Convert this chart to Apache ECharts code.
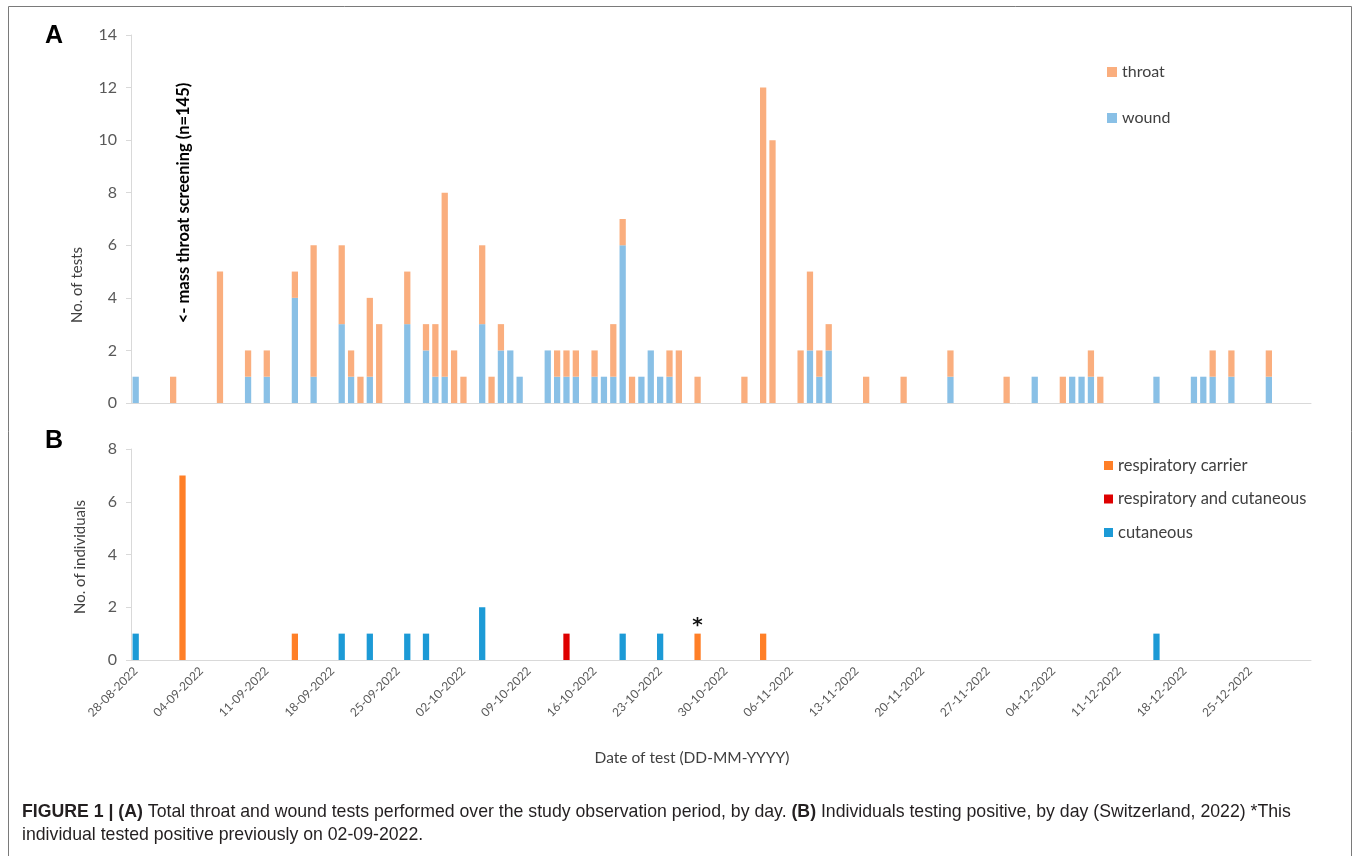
<!DOCTYPE html>
<html><head><meta charset="utf-8">
<script src="https://cdn.jsdelivr.net/npm/echarts@6/dist/echarts.min.js"></script>
<style>html,body{margin:0;padding:0;background:#fff}#c{width:1356px;height:856px}</style>
</head><body><div id="c"></div>
<script>
// ---- categories: one per day, 28-08-2022 .. 31-12-2022 ----
const firstDay = new Date(2022, 7, 28);
const nDays = 126;
const dates = [];
for (let i = 0; i < nDays; i++) {
  const d = new Date(firstDay.getFullYear(), firstDay.getMonth(), firstDay.getDate() + i);
  dates.push(String(d.getDate()).padStart(2, '0') + '-' + String(d.getMonth() + 1).padStart(2, '0') + '-' + d.getFullYear());
}

// ---- Panel A: number of tests per day ----
const throat = [
0,0,0,0,1,0,0,0,0,5,
0,0,1,0,1,0,0,1,0,5,
0,0,3,1,1,3,3,0,0,2,
0,1,2,7,2,1,0,3,1,1,
0,0,0,0,0,1,1,1,0,1,
0,2,1,1,0,0,0,1,2,0,
1,0,0,0,0,1,0,12,10,0,
0,2,3,1,1,0,0,0,1,0,
0,0,1,0,0,0,0,1,0,0,
0,0,0,1,0,0,0,0,0,1,
0,0,1,1,0,0,0,0,0,0,
0,0,0,0,0,1,0,1,0,0,
0,1,0,0,0,0];
const wound = [
1,0,0,0,0,0,0,0,0,0,
0,0,1,0,1,0,0,4,0,1,
0,0,3,1,0,1,0,0,0,3,
0,2,1,1,0,0,0,3,0,2,
2,1,0,0,2,1,1,1,0,1,
1,1,6,0,1,2,1,1,0,0,
0,0,0,0,0,0,0,0,0,0,
0,0,2,1,2,0,0,0,0,0,
0,0,0,0,0,0,0,1,0,0,
0,0,0,0,0,0,1,0,0,0,
1,1,1,0,0,0,0,0,0,1,
0,0,0,1,1,1,0,1,0,0,
0,1,0,0,0,0];

// ---- Panel B: individuals testing positive per day ----
const respCarrier = [
0,0,0,0,0,7,0,0,0,0,
0,0,0,0,0,0,0,1,0,0,
0,0,0,0,0,0,0,0,0,0,
0,0,0,0,0,0,0,0,0,0,
0,0,0,0,0,0,0,0,0,0,
0,0,0,0,0,0,0,0,0,0,
1,0,0,0,0,0,0,1,0,0,
0,0,0,0,0,0,0,0,0,0,
0,0,0,0,0,0,0,0,0,0,
0,0,0,0,0,0,0,0,0,0,
0,0,0,0,0,0,0,0,0,0,
0,0,0,0,0,0,0,0,0,0,
0,0,0,0,0,0];
const respAndCut = [
0,0,0,0,0,0,0,0,0,0,
0,0,0,0,0,0,0,0,0,0,
0,0,0,0,0,0,0,0,0,0,
0,0,0,0,0,0,0,0,0,0,
0,0,0,0,0,0,1,0,0,0,
0,0,0,0,0,0,0,0,0,0,
0,0,0,0,0,0,0,0,0,0,
0,0,0,0,0,0,0,0,0,0,
0,0,0,0,0,0,0,0,0,0,
0,0,0,0,0,0,0,0,0,0,
0,0,0,0,0,0,0,0,0,0,
0,0,0,0,0,0,0,0,0,0,
0,0,0,0,0,0];
const cutaneous = [
1,0,0,0,0,0,0,0,0,0,
0,0,0,0,0,0,0,0,0,0,
0,0,1,0,0,1,0,0,0,1,
0,1,0,0,0,0,0,2,0,0,
0,0,0,0,0,0,0,0,0,0,
0,0,1,0,0,0,1,0,0,0,
0,0,0,0,0,0,0,0,0,0,
0,0,0,0,0,0,0,0,0,0,
0,0,0,0,0,0,0,0,0,0,
0,0,0,0,0,0,0,0,0,0,
0,0,0,0,0,0,0,0,0,1,
0,0,0,0,0,0,0,0,0,0,
0,0,0,0,0,0];
const asteriskDate = '27-10-2022';   // individual who tested positive previously
const screeningDate = '02-09-2022';  // mass throat screening (n=145), off scale
const yTicksA = [0, 14, 2];
const yTicksB = [0, 8, 2];

const C = {
  throat: '#FAAE7E', wound: '#89C0E6',
  carrier: '#FF7F27', both: '#DE0000', cut: '#1C9AD6',
  axis: '#D9D9D9', label: '#595959', text: '#404040'
};
const FONT = 'Lato';

const chart = echarts.init(document.getElementById('c'), null, { renderer: 'canvas' });

const gridL = 131, gridR = 45;
const option = {
  backgroundColor: '#fff',
  animation: false,
  textStyle: { fontFamily: FONT },
  grid: [
    { left: gridL, right: gridR, top: 35, height: 368 },
    { left: gridL, right: gridR, top: 449, height: 211 }
  ],
  legend: [
    { data: ['throat', 'wound'], orient: 'vertical', left: 1107, top: 64, padding: 0, icon: 'rect',
      itemWidth: 10, itemHeight: 10, itemGap: 30, selectedMode: false,
      textStyle: { fontSize: 16, color: C.text, fontFamily: FONT } },
    { data: ['respiratory carrier', 'respiratory and cutaneous', 'cutaneous'], orient: 'vertical',
      left: 1104, top: 457, padding: 0, icon: 'rect', itemWidth: 9, itemHeight: 9, itemGap: 16.5, selectedMode: false,
      textStyle: { fontSize: 16.5, color: C.text, fontFamily: FONT } }
  ],
  xAxis: [
    { type: 'category', gridIndex: 0, data: dates, boundaryGap: true,
      axisLine: { lineStyle: { color: C.axis } },
      axisTick: { interval: 0, length: 5, lineStyle: { color: C.axis } },
      axisLabel: { show: false }, splitLine: { show: false } },
    { type: 'category', gridIndex: 1, data: dates, boundaryGap: true,
      axisLine: { lineStyle: { color: C.axis } },
      axisTick: { interval: 6, length: 5, lineStyle: { color: C.axis } },
      axisLabel: { interval: 6, rotate: 45, fontSize: 12, color: C.label, margin: 9, fontFamily: FONT },
      splitLine: { show: false } }
  ],
  yAxis: [
    { type: 'value', gridIndex: 0, min: yTicksA[0], max: yTicksA[1], interval: yTicksA[2],
      axisLine: { show: true, lineStyle: { color: C.axis } },
      axisTick: { show: true, length: 5, lineStyle: { color: C.axis } },
      axisLabel: { fontSize: 16, color: C.label, margin: 14, fontFamily: FONT },
      splitLine: { show: false } },
    { type: 'value', gridIndex: 1, min: yTicksB[0], max: yTicksB[1], interval: yTicksB[2],
      axisLine: { show: true, lineStyle: { color: C.axis } },
      axisTick: { show: true, length: 5, lineStyle: { color: C.axis } },
      axisLabel: { fontSize: 16, color: C.label, margin: 14, fontFamily: FONT },
      splitLine: { show: false } }
  ],
  series: [
    { name: 'wound', type: 'bar', xAxisIndex: 0, yAxisIndex: 0, stack: 'a', data: wound,
      barWidth: '67%', itemStyle: { color: C.wound } },
    { name: 'throat', type: 'bar', xAxisIndex: 0, yAxisIndex: 0, stack: 'a', data: throat,
      barWidth: '67%', itemStyle: { color: C.throat } },
    { name: 'respiratory carrier', type: 'bar', xAxisIndex: 1, yAxisIndex: 1, stack: 'b',
      data: respCarrier.map((v, i) => dates[i] === asteriskDate
        ? { value: v, label: { show: true, position: 'top', formatter: '*', fontSize: 20, fontWeight: 'bold', color: '#111', distance: -2, fontFamily: 'DejaVu Sans' } }
        : v),
      barWidth: '67%', itemStyle: { color: C.carrier } },
    { name: 'respiratory and cutaneous', type: 'bar', xAxisIndex: 1, yAxisIndex: 1, stack: 'b', data: respAndCut,
      barWidth: '67%', itemStyle: { color: C.both } },
    { name: 'cutaneous', type: 'bar', xAxisIndex: 1, yAxisIndex: 1, stack: 'b', data: cutaneous,
      barWidth: '67%', itemStyle: { color: C.cut } }
  ]
};
chart.setOption(option);

const sx = chart.convertToPixel({ xAxisIndex: 0 }, screeningDate);
const axisMidX = 692;
chart.setOption({
  graphic: [
    { type: 'rect', shape: { x: 8.5, y: 6.5, width: 1343, height: 900 },
      style: { fill: 'none', stroke: '#7a7a7a', lineWidth: 1 }, silent: true },
    { type: 'text', x: 45, y: 24, style: { text: 'A', font: 'bold 25px "Liberation Sans"', fill: '#000' } },
    { type: 'text', x: 45, y: 429, style: { text: 'B', font: 'bold 25px "Liberation Sans"', fill: '#000' } },
    { type: 'text', x: sx + 1, y: 203, rotation: Math.PI / 2,
      style: { text: '<- mass throat screening (n=145)', font: 'bold 16.5px Lato', fill: '#000',
               align: 'center', verticalAlign: 'middle' } },
    { type: 'text', x: 77, y: 285, rotation: Math.PI / 2,
      style: { text: 'No. of tests', font: '15px Lato', fill: C.text, align: 'center', verticalAlign: 'middle' } },
    { type: 'text', x: 80, y: 557, rotation: Math.PI / 2,
      style: { text: 'No. of individuals', font: '15px Lato', fill: C.text, align: 'center', verticalAlign: 'middle' } },
    { type: 'text', x: axisMidX, y: 758,
      style: { text: 'Date of test (DD-MM-YYYY)', font: '15.5px Lato', fill: C.text, align: 'center', verticalAlign: 'middle' } },
    { type: 'text', x: 22, y: 812,
      style: {
        text: '{b|FIGURE 1 | (A)} Total throat and wound tests performed over the study observation period, by day. {b|(B)} Individuals testing positive, by day (Switzerland, 2022) *This',
        font: '17.7px "Liberation Sans"', fill: '#231F20', verticalAlign: 'middle',
        rich: { b: { font: 'bold 17.7px "Liberation Sans"', fill: '#231F20' } }
      } },
    { type: 'text', x: 22, y: 835,
      style: { text: 'individual tested positive previously on 02-09-2022.', font: '17.7px "Liberation Sans"', fill: '#231F20', verticalAlign: 'middle' } }
  ]
});
</script></body></html>
